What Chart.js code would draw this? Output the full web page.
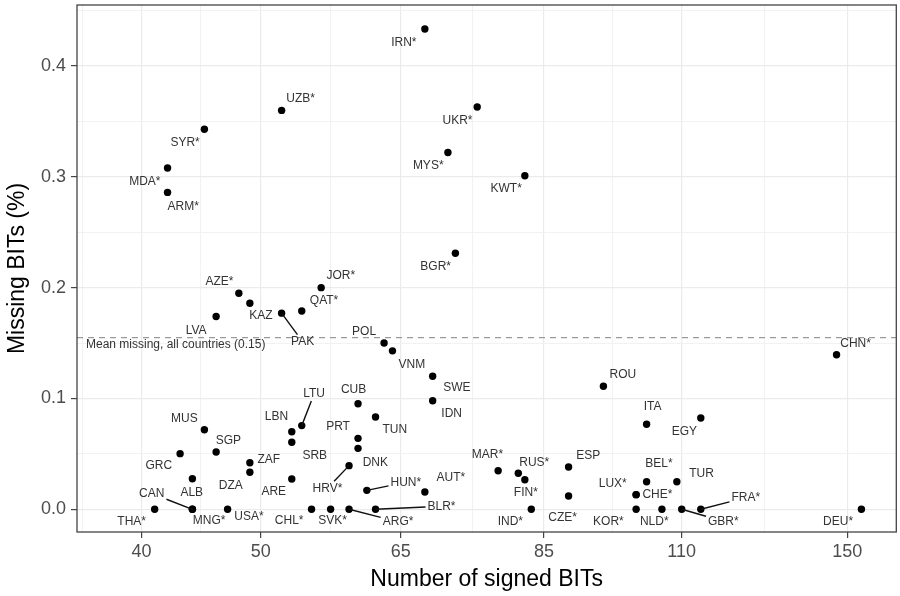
<!DOCTYPE html>
<html>
<head>
<meta charset="utf-8">
<script src="https://cdn.jsdelivr.net/npm/chart.js@4.4.1/dist/chart.umd.min.js"></script>
<style>
html,body{margin:0;padding:0;background:#fff;}
#wrap{width:900px;height:596px;}
</style>
</head>
<body>
<div id="wrap"><canvas id="c" width="900" height="596"></canvas></div>
<script>
// ---- data ----
const countries = ["IRN*","UZB*","SYR*","MDA*","ARM*","UKR*","MYS*","KWT*","BGR*","AZE*",
  "KAZ","JOR*","QAT*","PAK","LVA","POL","VNM","SWE","IDN","ROU",
  "CHN*","CUB","TUN","LTU","LBN","SRB","PRT","DNK","HRV*","MUS",
  "SGP","GRC","ZAF","DZA","ALB","ARE","CAN","THA*","MNG*","USA*",
  "CHL*","SVK*","ARG*","BLR*","HUN*","AUT*","MAR*","RUS*","FIN*","IND*",
  "ESP","CZE*","ITA","EGY","BEL*","TUR","LUX*","CHE*","KOR*","NLD*",
  "GBR*","FRA*","DEU*"];
const signedBITs = [68,52,45,42,42,75,71,82,72,48,
  49,56,54,52,46,63,64,69,69,95,
  147,60,62,54,53,53,60,60,59,45,
  46,43,49,49,44,53,44,41,44,47,
  55,57,59,62,61,68,78,81,82,83,
  89,89,103,114,103,109,101,101,101,106,
  110,114,154];
const missingBITs = [0.4335,0.360,0.343,0.308,0.286,0.363,0.322,0.301,0.231,0.195,
  0.186,0.200,0.179,0.177,0.174,0.150,0.143,0.120,0.098,0.111,
  0.1395,0.0953,0.0833,0.0755,0.070,0.0605,0.064,0.055,0.0394,0.0718,
  0.0517,0.0502,0.042,0.0334,0.0276,0.0273,0,0,0,0,
  0,0,0,0,0.0171,0.0156,0.0348,0.0325,0.0267,0,
  0.0382,0.012,0.0767,0.0824,0.0249,0.0249,0.0132,0.0132,0,0,
  0,0,0];
const meanMissing = 0.155;
const meanLabel = "Mean missing, all countries (0.15)";

// label placement (pixel offsets of each label from its point)
const labelDx = [-21,19,-19.3,-22.7,15.7,-19.7,-19.7,-18.7,-19.7,-19.4,
  11,19.7,22.3,21,-20,-20,19.4,24.3,19,19.4,
  19,-4.4,19.3,12.3,-15.3,23,-20,17.3,-21.6,-20,
  12.3,-21.4,19,-19,-0.6,-18,-40.6,-23,16.7,21.3,
  -22.4,2,49,66,39,26,-10.6,16,1,-21,
  19.6,-6,6,-16.4,12.3,24.7,-23.4,21.3,-27.7,-7.7,
  41.6,45,-23.3];
const labelDy = [13.3,-11.4,13.6,13.4,14,13.3,13.7,12.6,13.6,-11.7,
  13,-12.3,-10.3,28.4,14,-11.6,13.6,11.6,13,-11.7,
  -11.4,-14.4,13,-31.7,-15.4,13,-11.3,14,22.6,-11.4,
  -11,12,-3.4,13.4,13.6,12.3,-15.7,12,11.7,7,
  11.7,11.7,12.6,-3,-8,-14.3,-16.4,-11,13,12.3,
  -11,21.7,-17.6,13.7,-17.7,-7.7,-10.7,0,12,12,
  12,-11.7,12];
const segmentLabels = ["PAK","LTU","HRV*","CAN","HUN*","BLR*","ARG*","FRA*","GBR*"];

// axes
const xMin = 35.45, xMax = 164.4;
const yMin = -0.0205, yMax = 0.4551;
const xTickMajor = [40,50,65,85,110,150];
const xTickMinor = [35.8,44.7,57.0,74.3,96.7,128.5];
const yTickMajor = [0,0.1,0.2,0.3,0.4];
const yTickMinor = [0.05,0.15,0.25,0.35,0.45];

const FONT = '"Liberation Sans", Arial, Helvetica, sans-serif';

const points = signedBITs.map((b,i)=>({x:b, y:missingBITs[i]}));

const labelPlugin = {
  id: 'repelLabels',
  afterDatasetsDraw(chart){
    const {ctx, scales:{x, y}, chartArea} = chart;
    ctx.save();
    ctx.beginPath();
    ctx.rect(chartArea.left, chartArea.top, chartArea.right-chartArea.left, chartArea.bottom-chartArea.top);
    ctx.clip();
    ctx.font = '12px ' + FONT;
    ctx.textAlign = 'center';
    ctx.textBaseline = 'middle';
    countries.forEach((name,i)=>{
      const px = x.getPixelForValue(signedBITs[i]);
      const py = y.getPixelForValue(missingBITs[i]);
      const lx = px + labelDx[i], ly = py + labelDy[i];
      if (segmentLabels.includes(name)) {
        const hw = ctx.measureText(name).width/2 + 2, hh = 7;
        const ddx = px - lx, ddy = py - ly;
        const tx = ddx !== 0 ? Math.abs(hw/ddx) : Infinity;
        const ty = ddy !== 0 ? Math.abs(hh/ddy) : Infinity;
        const t = Math.min(tx, ty, 1);
        ctx.beginPath();
        ctx.moveTo(px, py);
        ctx.lineTo(lx + ddx*t, ly + ddy*t);
        ctx.strokeStyle = '#111';
        ctx.lineWidth = 1.4;
        ctx.stroke();
      }
      ctx.fillStyle = '#333';
      ctx.fillText(name, lx, ly);
    });
    ctx.textAlign = 'left';
    ctx.fillStyle = '#333';
    ctx.fillText(meanLabel, chartArea.left + 9, y.getPixelForValue(meanMissing) + 7);
    ctx.restore();
  }
};

const borderPlugin = {
  id: 'panelBorder',
  afterDraw(chart){
    const {ctx, chartArea:a} = chart;
    ctx.save();
    ctx.strokeStyle = '#444';
    ctx.lineWidth = 1.3;
    ctx.strokeRect(a.left, a.top, a.right-a.left, a.bottom-a.top);
    ctx.restore();
  }
};

const isMajor = (arr, v) => arr.some(m => Math.abs(m - v) < 1e-9);
const zeroPad = (scale) => {
  scale.paddingTop = 0; scale.paddingBottom = 0;
  scale.paddingLeft = 0; scale.paddingRight = 0;
};

new Chart(document.getElementById('c'), {
  type: 'scatter',
  data: {
    datasets: [
      {
        type: 'line',
        data: [{x:xMin, y:meanMissing},{x:xMax, y:meanMissing}],
        borderColor: '#9a9a9a',
        borderWidth: 1.3,
        borderDash: [6,5],
        pointRadius: 0,
        fill: false,
        order: 2
      },
      {
        data: points,
        backgroundColor: '#000',
        borderWidth: 0,
        pointRadius: 3.7,
        pointHoverRadius: 3.7,
        order: 1
      }
    ]
  },
  options: {
    responsive: false,
    animation: false,
    devicePixelRatio: 1,
    layout: {padding: {left:0, top:5, right:3, bottom:0}},
    plugins: {legend:{display:false}, tooltip:{enabled:false}},
    scales: {
      x: {
        type: 'logarithmic',
        min: xMin, max: xMax,
        bounds: 'data',
        afterBuildTicks(scale){
          scale.ticks = xTickMinor.concat(xTickMajor).sort((a,b)=>a-b).map(v=>({value:v}));
        },
        afterFit(scale){ scale.height = 64; zeroPad(scale); },
        ticks: {
          autoSkip: false, maxRotation: 0, minRotation: 0,
          padding: 3,
          color: '#4d4d4d',
          font: {family: FONT, size: 18},
          callback: (v) => isMajor(xTickMajor, v) ? String(v) : ''
        },
        grid: {
          drawTicks: true,
          tickLength: 6,
          color: (c) => c.tick && isMajor(xTickMajor, c.tick.value) ? '#ebebeb' : '#f1f1f1',
          lineWidth: (c) => c.tick && isMajor(xTickMajor, c.tick.value) ? 1.2 : 0.9,
          tickColor: (c) => c.tick && isMajor(xTickMajor, c.tick.value) ? '#444' : 'rgba(0,0,0,0)',
          tickWidth: 1.2
        },
        border: {display: false},
        title: {
          display: true, text: 'Number of signed BITs', color: '#000',
          font: {family: FONT, size: 23}, padding: {top:0, bottom:3}
        }
      },
      y: {
        type: 'linear',
        min: yMin, max: yMax,
        bounds: 'data',
        afterBuildTicks(scale){
          scale.ticks = yTickMajor.concat(yTickMinor).sort((a,b)=>a-b).map(v=>({value:v}));
        },
        afterFit(scale){ scale.width = 77; zeroPad(scale); },
        ticks: {
          autoSkip: false,
          padding: 5,
          color: '#4d4d4d',
          font: {family: FONT, size: 18},
          callback: (v) => isMajor(yTickMajor, v) ? v.toFixed(1) : ''
        },
        grid: {
          drawTicks: true,
          tickLength: 6,
          color: (c) => c.tick && isMajor(yTickMajor, c.tick.value) ? '#ebebeb' : '#f1f1f1',
          lineWidth: (c) => c.tick && isMajor(yTickMajor, c.tick.value) ? 1.2 : 0.9,
          tickColor: (c) => c.tick && isMajor(yTickMajor, c.tick.value) ? '#444' : 'rgba(0,0,0,0)',
          tickWidth: 1.2
        },
        border: {display: false},
        title: {
          display: true, text: 'Missing BITs (%)', color: '#000',
          font: {family: FONT, size: 23}, padding: {top:4, bottom:0}
        }
      }
    }
  },
  plugins: [labelPlugin, borderPlugin]
});
</script>
</body>
</html>
